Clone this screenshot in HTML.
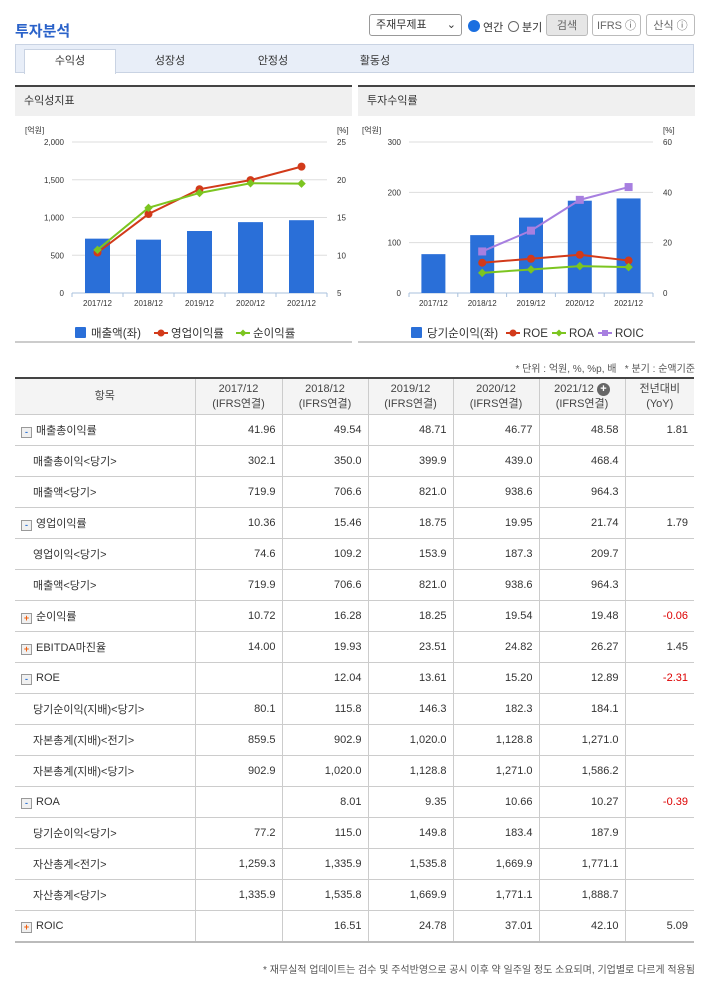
<!DOCTYPE html>
<html><head><meta charset="utf-8"><style>
body{margin:0;width:709px;height:982px;background:#fff;font-family:"Liberation Sans","Noto Sans CJK KR",sans-serif;position:relative;overflow:hidden;color:#333}
.a{position:absolute}
.btn{position:absolute;top:14px;height:22px;border:1px solid #bbb;border-radius:3px;font-size:11px;line-height:22px;text-align:center;color:#666;background:#fff;box-sizing:border-box}
table{position:absolute;left:15px;top:377px;border-collapse:collapse;table-layout:fixed;width:679px;font-size:11px;border-top:2px solid #444;border-bottom:2px solid #bbb}
td,th{border-bottom:1px solid #ccc;border-left:1px solid #ccc;height:30px;padding:0 6px;text-align:right}
td:first-child,th:first-child{border-left:none;text-align:left}
th{background:#f4f4f4;font-weight:normal;text-align:center!important;height:35px;line-height:15px;color:#444}
.ic{display:inline-block;width:9px;height:9px;border:1px solid #999;margin-right:4px;vertical-align:-1px;font-size:9px;line-height:8px;text-align:center;font-weight:bold;background:#f0f0f0}
.m{color:#3a7bd5}.p{color:#f06010}
.sub{padding-left:18px!important}
.neg{color:#d00}
</style></head><body>
<div class="a" style="left:15px;top:20px;font-size:15px;font-weight:bold;color:#2a62c9">투자분석</div>
<div class="a" style="left:369px;top:14px;width:93px;height:22px;border:1px solid #999;border-radius:3px;box-sizing:border-box;font-size:11px;line-height:20px;padding-left:6px">주재무제표<span style="position:absolute;right:5px">⌄</span></div>
<div class="a" style="left:468px;top:19px;font-size:11px"><span style="display:inline-block;width:10px;height:10px;border-radius:50%;background:#1a6fe0;border:1px solid #1a6fe0;vertical-align:-1px"></span> 연간</div>
<div class="a" style="left:508px;top:19px;font-size:11px"><span style="display:inline-block;width:9px;height:9px;border-radius:50%;border:1px solid #666;vertical-align:-1px"></span> 분기</div>
<div class="btn" style="left:546px;width:42px;background:#e6e6e6">검색</div>
<div class="btn" style="left:592px;width:49px">IFRS ⓘ</div>
<div class="btn" style="left:646px;width:49px">산식 ⓘ</div>
<div class="a" style="left:15px;top:44px;width:679px;height:29px;background:#e8eef8;border:1px solid #c9d3e3;box-sizing:border-box"></div>
<div class="a" style="left:24px;top:49px;width:92px;height:25px;background:#fff;border:1px solid #c9d3e3;border-bottom:none;box-sizing:border-box;font-size:11px;text-align:center;line-height:22px">수익성</div>
<div class="a" style="left:140px;top:52px;width:60px;font-size:11px;text-align:center">성장성</div>
<div class="a" style="left:243px;top:52px;width:60px;font-size:11px;text-align:center">안정성</div>
<div class="a" style="left:345px;top:52px;width:60px;font-size:11px;text-align:center">활동성</div>
<div class="a" style="left:15px;top:85px;width:337px;height:31px;background:#f0f0f0;border-top:2px solid #444;box-sizing:border-box;font-size:11px;line-height:29px;padding-left:9px">수익성지표</div>
<div class="a" style="left:358px;top:85px;width:337px;height:31px;background:#f0f0f0;border-top:2px solid #444;box-sizing:border-box;font-size:11px;line-height:29px;padding-left:9px">투자수익률</div>
<div class="a" style="left:15px;top:341px;width:337px;height:2px;background:#ccc"></div>
<div class="a" style="left:358px;top:341px;width:337px;height:2px;background:#ccc"></div>
<svg class="a" style="left:0;top:0" width="709" height="350" id="ch"></svg>
<div class="a" style="right:14px;top:360px;font-size:10px;color:#555">* 단위 : 억원, %, %p, 배 &nbsp; * 분기 : 순액기준</div>
<table>
<colgroup><col style="width:180px"><col style="width:87px"><col style="width:86px"><col style="width:85px"><col style="width:86px"><col style="width:86px"><col style="width:69px"></colgroup>
<tr><th>항목</th><th>2017/12<br>(IFRS연결)</th><th>2018/12<br>(IFRS연결)</th><th>2019/12<br>(IFRS연결)</th><th>2020/12<br>(IFRS연결)</th><th>2021/12 <span style="display:inline-block;width:13px;height:13px;border-radius:50%;background:#666;color:#fff;font-weight:bold;line-height:13px">+</span><br>(IFRS연결)</th><th>전년대비<br>(YoY)</th></tr>
<tr><td><span class="ic m">-</span>매출총이익률</td><td>41.96</td><td>49.54</td><td>48.71</td><td>46.77</td><td>48.58</td><td>1.81</td></tr>
<tr><td class="sub">매출총이익&lt;당기&gt;</td><td>302.1</td><td>350.0</td><td>399.9</td><td>439.0</td><td>468.4</td><td></td></tr>
<tr><td class="sub">매출액&lt;당기&gt;</td><td>719.9</td><td>706.6</td><td>821.0</td><td>938.6</td><td>964.3</td><td></td></tr>
<tr><td><span class="ic m">-</span>영업이익률</td><td>10.36</td><td>15.46</td><td>18.75</td><td>19.95</td><td>21.74</td><td>1.79</td></tr>
<tr><td class="sub">영업이익&lt;당기&gt;</td><td>74.6</td><td>109.2</td><td>153.9</td><td>187.3</td><td>209.7</td><td></td></tr>
<tr><td class="sub">매출액&lt;당기&gt;</td><td>719.9</td><td>706.6</td><td>821.0</td><td>938.6</td><td>964.3</td><td></td></tr>
<tr><td><span class="ic p">+</span>순이익률</td><td>10.72</td><td>16.28</td><td>18.25</td><td>19.54</td><td>19.48</td><td class="neg">-0.06</td></tr>
<tr><td><span class="ic p">+</span>EBITDA마진율</td><td>14.00</td><td>19.93</td><td>23.51</td><td>24.82</td><td>26.27</td><td>1.45</td></tr>
<tr><td><span class="ic m">-</span>ROE</td><td></td><td>12.04</td><td>13.61</td><td>15.20</td><td>12.89</td><td class="neg">-2.31</td></tr>
<tr><td class="sub">당기순이익(지배)&lt;당기&gt;</td><td>80.1</td><td>115.8</td><td>146.3</td><td>182.3</td><td>184.1</td><td></td></tr>
<tr><td class="sub">자본총계(지배)&lt;전기&gt;</td><td>859.5</td><td>902.9</td><td>1,020.0</td><td>1,128.8</td><td>1,271.0</td><td></td></tr>
<tr><td class="sub">자본총계(지배)&lt;당기&gt;</td><td>902.9</td><td>1,020.0</td><td>1,128.8</td><td>1,271.0</td><td>1,586.2</td><td></td></tr>
<tr><td><span class="ic m">-</span>ROA</td><td></td><td>8.01</td><td>9.35</td><td>10.66</td><td>10.27</td><td class="neg">-0.39</td></tr>
<tr><td class="sub">당기순이익&lt;당기&gt;</td><td>77.2</td><td>115.0</td><td>149.8</td><td>183.4</td><td>187.9</td><td></td></tr>
<tr><td class="sub">자산총계&lt;전기&gt;</td><td>1,259.3</td><td>1,335.9</td><td>1,535.8</td><td>1,669.9</td><td>1,771.1</td><td></td></tr>
<tr><td class="sub">자산총계&lt;당기&gt;</td><td>1,335.9</td><td>1,535.8</td><td>1,669.9</td><td>1,771.1</td><td>1,888.7</td><td></td></tr>
<tr><td><span class="ic p">+</span>ROIC</td><td></td><td>16.51</td><td>24.78</td><td>37.01</td><td>42.10</td><td>5.09</td></tr>
</table>
<div class="a" style="right:14px;top:961px;font-size:10px;color:#555">* 재무실적 업데이트는 검수 및 주석반영으로 공시 이후 약 일주일 정도 소요되며, 기업별로 다르게 적용됨</div>
<script>
const years=["2017/12","2018/12","2019/12","2020/12","2021/12"];
const sales=[719.9,706.6,821.0,938.6,964.3];
const opMargin=[10.36,15.46,18.75,19.95,21.74];
const netMargin=[10.72,16.28,18.25,19.54,19.48];
const leftTicks1=[0,500,1000,1500,2000];
const rightTicks1=[5,10,15,20,25];
const netIncome=[77.2,115.0,149.8,183.4,187.9];
const roe=[null,12.04,13.61,15.20,12.89];
const roa=[null,8.01,9.35,10.66,10.27];
const roic=[null,16.51,24.78,37.01,42.10];
const leftTicks2=[0,100,200,300];
const rightTicks2=[0,20,40,60];
const svg=document.getElementById('ch');
const NS='http://www.w3.org/2000/svg';
function mk(t,a,txt){const e=document.createElementNS(NS,t);for(const k in a)e.setAttribute(k,a[k]);if(txt!=null)e.textContent=txt;svg.appendChild(e);return e;}
function chart(o){
 const {x0,x1,yTop,yBot,lmax,rmin,rmax,lt,rt,bars,lines,barW}=o;
 const bw=(x1-x0)/years.length;
 const X=i=>x0+bw*(i+0.5);
 const YL=v=>yBot-(v/lmax)*(yBot-yTop);
 const YR=v=>yBot-((v-rmin)/(rmax-rmin))*(yBot-yTop);
 lt.forEach(v=>{if(v>0){const l=mk('line',{x1:x0,x2:x1,y1:YL(v),y2:YL(v),stroke:'#ddd'});}
  const t=mk('text',{x:x0-8,y:YL(v)+3,'text-anchor':'end','font-size':8,fill:'#333'},v.toLocaleString('en-US'));});
 rt.forEach(v=>{const t=mk('text',{x:x1+10,y:YR(v)+3,'font-size':8,fill:'#333'},v);});
 mk('text',{x:x0-47,y:yTop-9,'font-size':8,fill:'#333'},'[억원]');
 mk('text',{x:x1+10,y:yTop-9,'font-size':8,fill:'#333'},'[%]');
 mk('line',{x1:x0,x2:x1,y1:yBot,y2:yBot,stroke:'#a8c0dc'});
 for(let i=0;i<=years.length;i++)mk('line',{x1:x0+bw*i,x2:x0+bw*i,y1:yBot,y2:yBot+4,stroke:'#a8c0dc'});
 years.forEach((y,i)=>{const t=mk('text',{x:X(i),y:yBot+13,'text-anchor':'middle','font-size':8,fill:'#333'},y);});
 bars.forEach((v,i)=>{const r=mk('rect',{x:X(i)-barW/2,y:YL(v),width:barW,height:yBot-YL(v),fill:'#2a6fd8'});});
 lines.forEach(L=>{let pts=[];L.data.forEach((v,i)=>{if(v!=null)pts.push([X(i),YR(v)]);});
  const p=mk('polyline',{points:pts.map(p=>p.join(',')).join(' '),fill:'none',stroke:L.color,'stroke-width':2});
  pts.forEach(q=>{let m;if(L.shape==='c')m=mk('circle',{cx:q[0],cy:q[1],r:4,fill:L.color});else if(L.shape==='d')m=mk('rect',{x:q[0]-3,y:q[1]-3,width:6,height:6,fill:L.color,transform:`rotate(45 ${q[0]} ${q[1]})`});else m=mk('rect',{x:q[0]-4,y:q[1]-4,width:8,height:8,fill:L.color});});});
}
chart({x0:72,x1:327,yTop:142,yBot:293,lmax:2000,rmin:5,rmax:25,lt:leftTicks1,rt:rightTicks1,bars:sales,barW:25,
 lines:[{data:opMargin,color:'#d23a1a',shape:'c',name:'op-margin'},{data:netMargin,color:'#7cc520',shape:'d',name:'net-margin'}]});
chart({x0:409,x1:653,yTop:142,yBot:293,lmax:300,rmin:0,rmax:60,lt:leftTicks2,rt:rightTicks2,bars:netIncome,barW:24,
 lines:[{data:roe,color:'#d23a1a',shape:'c',name:'roe'},{data:roa,color:'#7cc520',shape:'d',name:'roa'},{data:roic,color:'#a77fe0',shape:'s',name:'roic'}]});
function legend(x,y,items){let cx=x;items.forEach(it=>{
 if(it.shape==='bar')mk('rect',{x:cx,y:y-9,width:11,height:11,rx:1,fill:'#2a6fd8'});
 else{mk('line',{x1:cx-1,x2:cx+13,y1:y-3,y2:y-3,stroke:it.color,'stroke-width':2});
  if(it.shape==='c')mk('circle',{cx:cx+6,cy:y-3,r:3.5,fill:it.color});else if(it.shape==='d')mk('rect',{x:cx+3.5,y:y-5.5,width:5,height:5,fill:it.color,transform:`rotate(45 ${cx+6} ${y-3})`});else mk('rect',{x:cx+3,y:y-6,width:6,height:6,fill:it.color});}
 const t=mk('text',{x:cx+16,y:y+1,'font-size':11.5,fill:'#333'},it.label);
 cx+=16+it.w;});}
legend(75,336,[{shape:'bar',label:'매출액(좌)',w:64},{shape:'c',color:'#d23a1a',label:'영업이익률',w:66},{shape:'d',color:'#7cc520',label:'순이익률',w:50}]);
legend(411,336,[{shape:'bar',label:'당기순이익(좌)',w:80},{shape:'c',color:'#d23a1a',label:'ROE',w:30},{shape:'d',color:'#7cc520',label:'ROA',w:30},{shape:'s',color:'#a77fe0',label:'ROIC',w:30}]);
</script>
</body></html>
